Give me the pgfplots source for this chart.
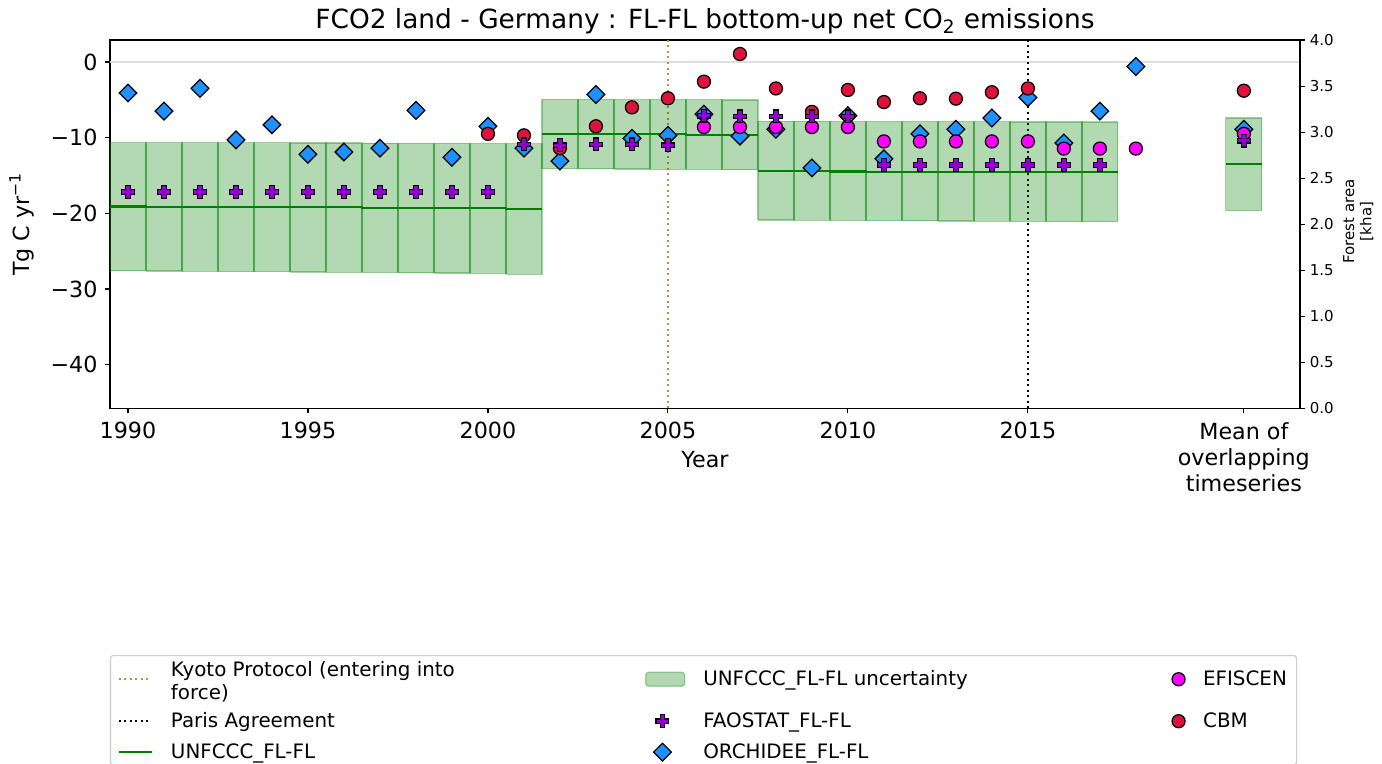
\documentclass[border=0pt]{standalone}
\usepackage{fontspec}
\setmainfont{DejaVu Sans}
\usepackage{pgfplots}
\pgfplotsset{compat=1.18}

\definecolor{fao}{RGB}{148,0,211}
\definecolor{orch}{RGB}{30,144,255}
\definecolor{efis}{RGB}{255,0,255}
\definecolor{cbm}{RGB}{220,20,60}
\definecolor{ugreen}{RGB}{0,128,0}
\definecolor{kyoto}{RGB}{205,133,63}
\definecolor{zgray}{RGB}{222,222,222}
\definecolor{lframe}{RGB}{204,204,204}

\pgfdeclareplotmark{fatplus}{%
 \pgfpathmoveto{\pgfpoint{-0.36\pgfplotmarksize}{\pgfplotmarksize}}%
 \pgfpathlineto{\pgfpoint{0.36\pgfplotmarksize}{\pgfplotmarksize}}%
 \pgfpathlineto{\pgfpoint{0.36\pgfplotmarksize}{0.36\pgfplotmarksize}}%
 \pgfpathlineto{\pgfpoint{\pgfplotmarksize}{0.36\pgfplotmarksize}}%
 \pgfpathlineto{\pgfpoint{\pgfplotmarksize}{-0.36\pgfplotmarksize}}%
 \pgfpathlineto{\pgfpoint{0.36\pgfplotmarksize}{-0.36\pgfplotmarksize}}%
 \pgfpathlineto{\pgfpoint{0.36\pgfplotmarksize}{-\pgfplotmarksize}}%
 \pgfpathlineto{\pgfpoint{-0.36\pgfplotmarksize}{-\pgfplotmarksize}}%
 \pgfpathlineto{\pgfpoint{-0.36\pgfplotmarksize}{-0.36\pgfplotmarksize}}%
 \pgfpathlineto{\pgfpoint{-\pgfplotmarksize}{-0.36\pgfplotmarksize}}%
 \pgfpathlineto{\pgfpoint{-\pgfplotmarksize}{0.36\pgfplotmarksize}}%
 \pgfpathlineto{\pgfpoint{-0.36\pgfplotmarksize}{0.36\pgfplotmarksize}}%
 \pgfpathclose
 \pgfusepathqfillstroke
}

\pgfplotsset{
 legend image code/.code={\draw[mark repeat=2,mark phase=2,#1] plot coordinates {(0pt,0pt)(12pt,0pt)(24pt,0pt)};},
 boxlegend/.style={legend image code/.code={\draw[##1] (0pt,-5pt) rectangle (28pt,5pt);}},
 faostyle/.style={only marks, mark=fatplus, mark size=4.6pt, mark options={fill=fao, draw=black, line width=0.9pt}},
 orchstyle/.style={only marks, mark=square*, mark size=4.5pt, mark options={rotate=45, fill=orch, draw=black, line width=0.9pt}},
 efisstyle/.style={only marks, mark=*, mark size=4.7pt, mark options={fill=efis, draw=black, line width=0.9pt}},
 cbmstyle/.style={only marks, mark=*, mark size=4.7pt, mark options={fill=cbm, draw=black, line width=0.9pt}},
 boxstyle/.style={fill=ugreen, fill opacity=0.3, draw=ugreen, draw opacity=0.35, line width=0.9pt},
 unfstyle/.style={ugreen, line width=1.5pt},
 kyotostyle/.style={kyoto, line width=1.5pt, dash pattern=on 1.5pt off 2.5pt},
 parisstyle/.style={black, line width=1.5pt, dash pattern=on 1.5pt off 2.5pt},
}

\newcommand{\ubox}[4]{\addplot[boxstyle, forget plot] coordinates {(#1,#3) (#1,#4) (#2,#4) (#2,#3) (#1,#3)};}

\begin{document}
\begin{tikzpicture}
\useasboundingbox (-79.2pt,-255.96pt) rectangle (915.84pt,294.12pt);
\begin{axis}[
 at={(0,0)}, anchor=south west,
 width=856.8pt, height=265.3pt, scale only axis,
 xmin=1989.5, xmax=2022.56, ymin=-45.8, ymax=2.9,
 axis line style={line width=0.8pt},
 tick style={line width=0.8pt, black},
 major tick length=3.5pt,
 tick align=outside, xtick pos=bottom, ytick pos=left,
 xtick={1990,1995,2000,2005,2010,2015,2021},
 xticklabels={1990,1995,2000,2005,2010,2015,{Mean of\\overlapping\\timeseries}},
 xticklabel style={align=center, font=\fontsize{16}{18.7}\selectfont, yshift=-3pt},
 ytick={-40,-30,-20,-10,0},
 yticklabels={−40,−30,−20,−10,0},
 yticklabel style={font=\fontsize{16}{18}\selectfont, xshift=-2pt},
 title={FCO2 land - Germany : FL-FL bottom-up net CO\textsubscript{2} emissions},
 title style={font=\fontsize{19}{22}\selectfont, yshift=-5pt},
 ylabel={Tg C yr\textsuperscript{−1}},
 ylabel style={font=\fontsize{16}{18}\selectfont, yshift=5pt},
 xlabel={Year},
 xlabel style={font=\fontsize{16}{18}\selectfont, at={(axis description cs:0.5,0)}, anchor=center, yshift=-37pt},
 legend columns=3, transpose legend,
 legend cell align=left,
 legend style={at={(axis description cs:0,-0.669)}, anchor=north west,
   draw=lframe, line width=0.8pt, rounded corners=2pt, fill=white,
   font=\fontsize{14.3}{17}\selectfont, inner xsep=5pt, inner ysep=1pt,
   row sep=6pt,
   /tikz/every odd column/.append style={column sep=11pt},
   /tikz/column 2/.append style={column sep=135pt},
   /tikz/column 4/.append style={column sep=145pt}},
]
% zero line
\addplot[zgray, line width=0.8pt, forget plot] coordinates {(1989.5,0) (2022.56,0)};
% treaty lines
\addplot[kyotostyle, forget plot] coordinates {(2005,-45.8) (2005,2.9)};
\addplot[parisstyle, forget plot] coordinates {(2015,-45.8) (2015,2.9)};
% UNFCCC uncertainty boxes: x0, x1, bottom, top
\ubox{1989.5}{1990.5}{-27.60}{-10.65}
\ubox{1990.5}{1991.5}{-27.63}{-10.66}
\ubox{1991.5}{1992.5}{-27.66}{-10.67}
\ubox{1992.5}{1993.5}{-27.70}{-10.68}
\ubox{1993.5}{1994.5}{-27.72}{-10.69}
\ubox{1994.5}{1995.5}{-27.75}{-10.70}
\ubox{1995.5}{1996.5}{-27.78}{-10.71}
\ubox{1996.5}{1997.5}{-27.82}{-10.73}
\ubox{1997.5}{1998.5}{-27.86}{-10.75}
\ubox{1998.5}{1999.5}{-27.90}{-10.76}
\ubox{1999.5}{2000.5}{-27.93}{-10.78}
\ubox{2000.5}{2001.5}{-28.05}{-10.82}
\ubox{2001.5}{2002.5}{-14.10}{-4.95}
\ubox{2002.5}{2003.5}{-14.12}{-4.96}
\ubox{2003.5}{2004.5}{-14.15}{-4.97}
\ubox{2004.5}{2005.5}{-14.18}{-4.98}
\ubox{2005.5}{2006.5}{-14.20}{-5.00}
\ubox{2006.5}{2007.5}{-14.25}{-5.02}
\ubox{2007.5}{2008.5}{-20.90}{-7.85}
\ubox{2008.5}{2009.5}{-20.92}{-7.86}
\ubox{2009.5}{2010.5}{-20.95}{-7.87}
\ubox{2010.5}{2011.5}{-20.97}{-7.88}
\ubox{2011.5}{2012.5}{-21.00}{-7.89}
\ubox{2012.5}{2013.5}{-21.02}{-7.90}
\ubox{2013.5}{2014.5}{-21.05}{-7.91}
\ubox{2014.5}{2015.5}{-21.07}{-7.92}
\ubox{2015.5}{2016.5}{-21.09}{-7.93}
\ubox{2016.5}{2017.5}{-21.10}{-7.95}
\ubox{2020.5}{2021.5}{-19.65}{-7.40}
% UNFCCC line
\addplot[unfstyle, forget plot] coordinates {(1989.5,-19.10)(1990.5,-19.10)(1990.5,-19.12)(1991.5,-19.12)(1991.5,-19.14)(1992.5,-19.14)(1992.5,-19.16)(1993.5,-19.16)(1993.5,-19.18)(1994.5,-19.18)(1994.5,-19.20)(1995.5,-19.20)(1995.5,-19.22)(1996.5,-19.22)(1996.5,-19.25)(1997.5,-19.25)(1997.5,-19.28)(1998.5,-19.28)(1998.5,-19.30)(1999.5,-19.30)(1999.5,-19.33)(2000.5,-19.33)(2000.5,-19.40)(2001.5,-19.40)};
\addplot[unfstyle, forget plot] coordinates {(2001.5,-9.50)(2002.5,-9.50)(2002.5,-9.52)(2003.5,-9.52)(2003.5,-9.54)(2004.5,-9.54)(2004.5,-9.56)(2005.5,-9.56)(2005.5,-9.60)(2006.5,-9.60)(2006.5,-9.65)(2007.5,-9.65)};
\addplot[unfstyle, forget plot] coordinates {(2007.5,-14.45)(2008.5,-14.45)(2008.5,-14.46)(2009.5,-14.46)(2009.5,-14.48)(2010.5,-14.48)(2010.5,-14.50)(2011.5,-14.50)(2011.5,-14.51)(2012.5,-14.51)(2012.5,-14.53)(2013.5,-14.53)(2013.5,-14.55)(2014.5,-14.55)(2014.5,-14.57)(2015.5,-14.57)(2015.5,-14.58)(2016.5,-14.58)(2016.5,-14.60)(2017.5,-14.60)};
\addplot[unfstyle, forget plot] coordinates {(2020.5,-13.5)(2021.5,-13.5)};
% ORCHIDEE
\addplot[orchstyle, forget plot] coordinates {(1990,-4.1)(1991,-6.5)(1992,-3.5)(1993,-10.3)(1994,-8.3)(1995,-12.2)(1996,-11.9)(1997,-11.4)(1998,-6.4)(1999,-12.6)(2000,-8.5)(2001,-11.4)(2002,-13.1)(2003,-4.3)(2004,-10.1)(2005,-9.7)(2006,-6.9)(2007,-9.8)(2008,-8.9)(2009,-14.0)(2010,-7.1)(2011,-12.8)(2012,-9.5)(2013,-8.9)(2014,-7.4)(2015,-4.7)(2016,-10.7)(2017,-6.5)(2018,-0.6)(2021,-8.9)};
% CBM
\addplot[cbmstyle, forget plot] coordinates {(2000,-9.5)(2001,-9.7)(2002,-11.4)(2003,-8.5)(2004,-6.0)(2005,-4.8)(2006,-2.6)(2007,1.05)(2008,-3.5)(2009,-6.6)(2010,-3.7)(2011,-5.3)(2012,-4.8)(2013,-4.85)(2014,-4.0)(2015,-3.5)(2021,-3.8)};
% EFISCEN
\addplot[efisstyle, forget plot] coordinates {(2006,-8.6)(2007,-8.6)(2008,-8.6)(2009,-8.6)(2010,-8.6)(2011,-10.5)(2012,-10.5)(2013,-10.5)(2014,-10.5)(2015,-10.5)(2016,-11.45)(2017,-11.45)(2018,-11.45)(2021,-9.5)};
% FAOSTAT
\addplot[faostyle, forget plot] coordinates {(1990,-17.2)(1991,-17.2)(1992,-17.2)(1993,-17.2)(1994,-17.2)(1995,-17.2)(1996,-17.2)(1997,-17.2)(1998,-17.2)(1999,-17.2)(2000,-17.2)(2001,-10.9)(2002,-11.0)(2003,-10.9)(2004,-10.9)(2005,-11.0)(2006,-7.1)(2007,-7.2)(2008,-7.2)(2009,-7.2)(2010,-7.2)(2011,-13.6)(2012,-13.6)(2013,-13.6)(2014,-13.6)(2015,-13.6)(2016,-13.6)(2017,-13.6)(2021,-10.4)};
% legend
\addlegendimage{kyotostyle}
\addlegendentry{\raisebox{6pt}{\begin{tabular}{@{}l@{}}Kyoto Protocol (entering into\\force)\end{tabular}}}
\addlegendimage{parisstyle}
\addlegendentry{Paris Agreement}
\addlegendimage{unfstyle}
\addlegendentry{UNFCCC\_FL-FL\rule[-16pt]{0pt}{1pt}}
\addlegendimage{boxlegend, boxstyle}
\addlegendentry{UNFCCC\_FL-FL uncertainty}
\addlegendimage{faostyle}
\addlegendentry{FAOSTAT\_FL-FL}
\addlegendimage{orchstyle}
\addlegendentry{ORCHIDEE\_FL-FL}
\addlegendimage{efisstyle}
\addlegendentry{EFISCEN}
\addlegendimage{cbmstyle}
\addlegendentry{CBM}
\end{axis}
\begin{axis}[
 at={(0,0)}, anchor=south west,
 width=856.8pt, height=265.3pt, scale only axis,
 xmin=0, xmax=1, ymin=0, ymax=4,
 axis x line=none, axis y line*=right,
 axis line style={line width=0.8pt, -},
 tick style={line width=0.8pt, black},
 major tick length=3.5pt, tick align=outside,
 ytick={0,0.5,1,1.5,2,2.5,3,3.5,4},
 yticklabels={0.0,0.5,1.0,1.5,2.0,2.5,3.0,3.5,4.0},
 yticklabel style={font=\fontsize{10.8}{12}\selectfont},
 ylabel={Forest area\\{}[kha]},
 ylabel style={align=center, font=\fontsize{10.8}{12.5}\selectfont, xshift=2pt},
]
\addplot[draw=none, forget plot] coordinates {(0,0)};
\end{axis}
\end{tikzpicture}
\end{document}
